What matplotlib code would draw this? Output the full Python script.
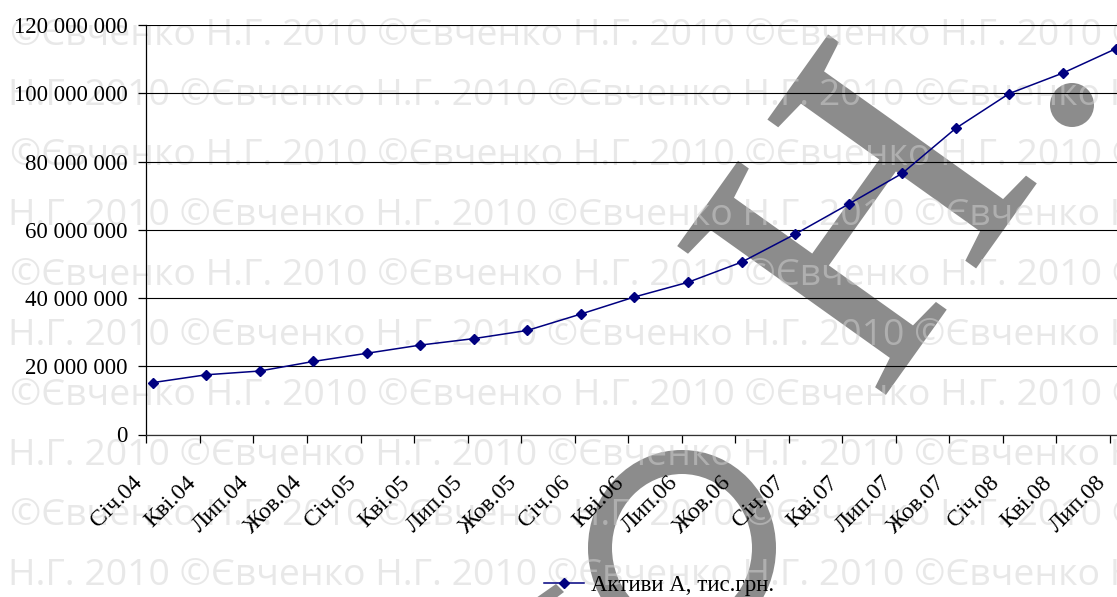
import numpy as np
import matplotlib
matplotlib.use('Agg')
import matplotlib.pyplot as plt
import matplotlib.patheffects as pe
import matplotlib.transforms as mtransforms
from matplotlib.patches import Ellipse, Polygon
from matplotlib.ticker import FuncFormatter
from matplotlib.textpath import TextPath
from matplotlib.font_manager import FontProperties

# data (quarterly, values in тис.грн.)
labels = ['Січ.04', 'Кві.04', 'Лип.04', 'Жов.04', 'Січ.05', 'Кві.05', 'Лип.05', 'Жов.05',
          'Січ.06', 'Кві.06', 'Лип.06', 'Жов.06', 'Січ.07', 'Кві.07', 'Лип.07', 'Жов.07',
          'Січ.08', 'Кві.08', 'Лип.08']
assets_mln = [15.2, 17.5, 18.6, 21.4, 23.8, 26.2, 28.1, 30.5, 35.3, 40.3, 44.6, 50.5,
              58.7, 67.5, 76.5, 89.7, 99.9, 105.9, 113.1]
series_name = 'Активи А, тис.грн.'
y_ticks = [0, 20e6, 40e6, 60e6, 80e6, 100e6, 120e6]

W, H, DPI = 1117, 597, 100
NAVY = '#000080'
GRAY = '#8c8c8c'
SERIF = 'Liberation Serif'


def px(x, y):
    # pixel position (from top-left) -> figure fraction
    return x / W, 1 - y / H


fig = plt.figure(figsize=(W / DPI, H / DPI), dpi=DPI)
fig.patch.set_facecolor('white')

# big grey watermark letters
hx, hy = px(960, 288)
fig.text(hx, hy, 'Н', fontsize=278, family=SERIF, color=GRAY, rotation=54.5,
         rotation_mode='anchor', ha='center', va='baseline', zorder=-3,
         path_effects=[pe.withStroke(linewidth=2.5, foreground=GRAY, joinstyle='miter')])
fig.add_artist(Ellipse(px(1072, 105), 44 / W, 44 / H, transform=fig.transFigure,
                       facecolor=GRAY, edgecolor='none', zorder=-3))
fig.add_artist(Ellipse(px(682, 548), 164 / W, 172 / H, transform=fig.transFigure,
                       fill=False, edgecolor=GRAY, lw=24 * 72 / DPI, zorder=-3))
fig.add_artist(Polygon([px(536, 598), px(556, 584), px(564, 592), px(556, 598)],
                       closed=True, transform=fig.transFigure, facecolor=GRAY,
                       edgecolor='none', zorder=-3))

# light repeated watermark text
wm_font = FontProperties(family='Open Sans')
unit = '©Євченко Н.Г. 2010 '
w1 = TextPath((0, 0), unit + 'Н', size=100, prop=wm_font).get_extents().width
w2 = TextPath((0, 0), unit * 2 + 'Н', size=100, prop=wm_font).get_extents().width
wm_size = 100 * 367 / (w2 - w1) * 72 / DPI
for k in range(10):
    if k % 2 == 0:
        s, x0 = unit * 4, 10
    else:
        s, x0 = ('Н.Г. 2010 ©Євченко ') * 4, 8
    tx, ty = px(x0, 45 + 60 * k)
    fig.text(tx, ty, s, fontproperties=wm_font, fontsize=wm_size, color='#d2d2d2',
             alpha=0.5, ha='left', va='baseline', zorder=-2)

# chart
month_px = (1110 - 146.4) / 54
n_months = 57
ax = fig.add_axes([146.4 / W, 1 - 434.5 / H, n_months * month_px / W, 409.5 / H])
ax.patch.set_visible(False)

x = np.arange(len(labels)) * 3
values = np.array(assets_mln) * 1e6
line, = ax.plot(x + 0.35, values, color=NAVY, lw=1.1, marker='D', ms=5.5,
                mfc=NAVY, mec=NAVY, label=series_name, zorder=3)

ax.set_xlim(0, n_months)
ax.set_ylim(0, 120e6)
ax.set_xticks(x)
ax.set_xticklabels(labels, rotation=45, ha='right', family=SERIF, fontsize=17)
shift = mtransforms.ScaledTranslation(5 / DPI, 0, fig.dpi_scale_trans)
for t in ax.get_xticklabels():
    t.set_transform(t.get_transform() + shift)
ax.set_yticks(y_ticks)
ax.yaxis.set_major_formatter(FuncFormatter(lambda v, p: f'{v:,.0f}'.replace(',', ' ')))
for t in ax.get_yticklabels():
    t.set_family(SERIF)
    t.set_fontsize(16.5)
ax.tick_params(axis='x', length=6, width=0.9, pad=21, colors='black')
ax.tick_params(axis='y', length=6, width=0.9, pad=7.5, colors='black')
ax.yaxis.grid(True, color='black', lw=0.8)
ax.set_axisbelow(True)
for side in ['top', 'right']:
    ax.spines[side].set_visible(False)
ax.spines['left'].set_linewidth(0.9)
ax.spines['bottom'].set_linewidth(0.9)
ax.spines['bottom'].set_color('#333333')

lx, ly = px(659, 585)
fig.legend(handles=[line], loc='center', bbox_to_anchor=(lx, ly), frameon=False,
           prop={'family': SERIF, 'size': 16.5}, handlelength=1.75, handletextpad=0.3)

fig.savefig('out.png', dpi=DPI)
